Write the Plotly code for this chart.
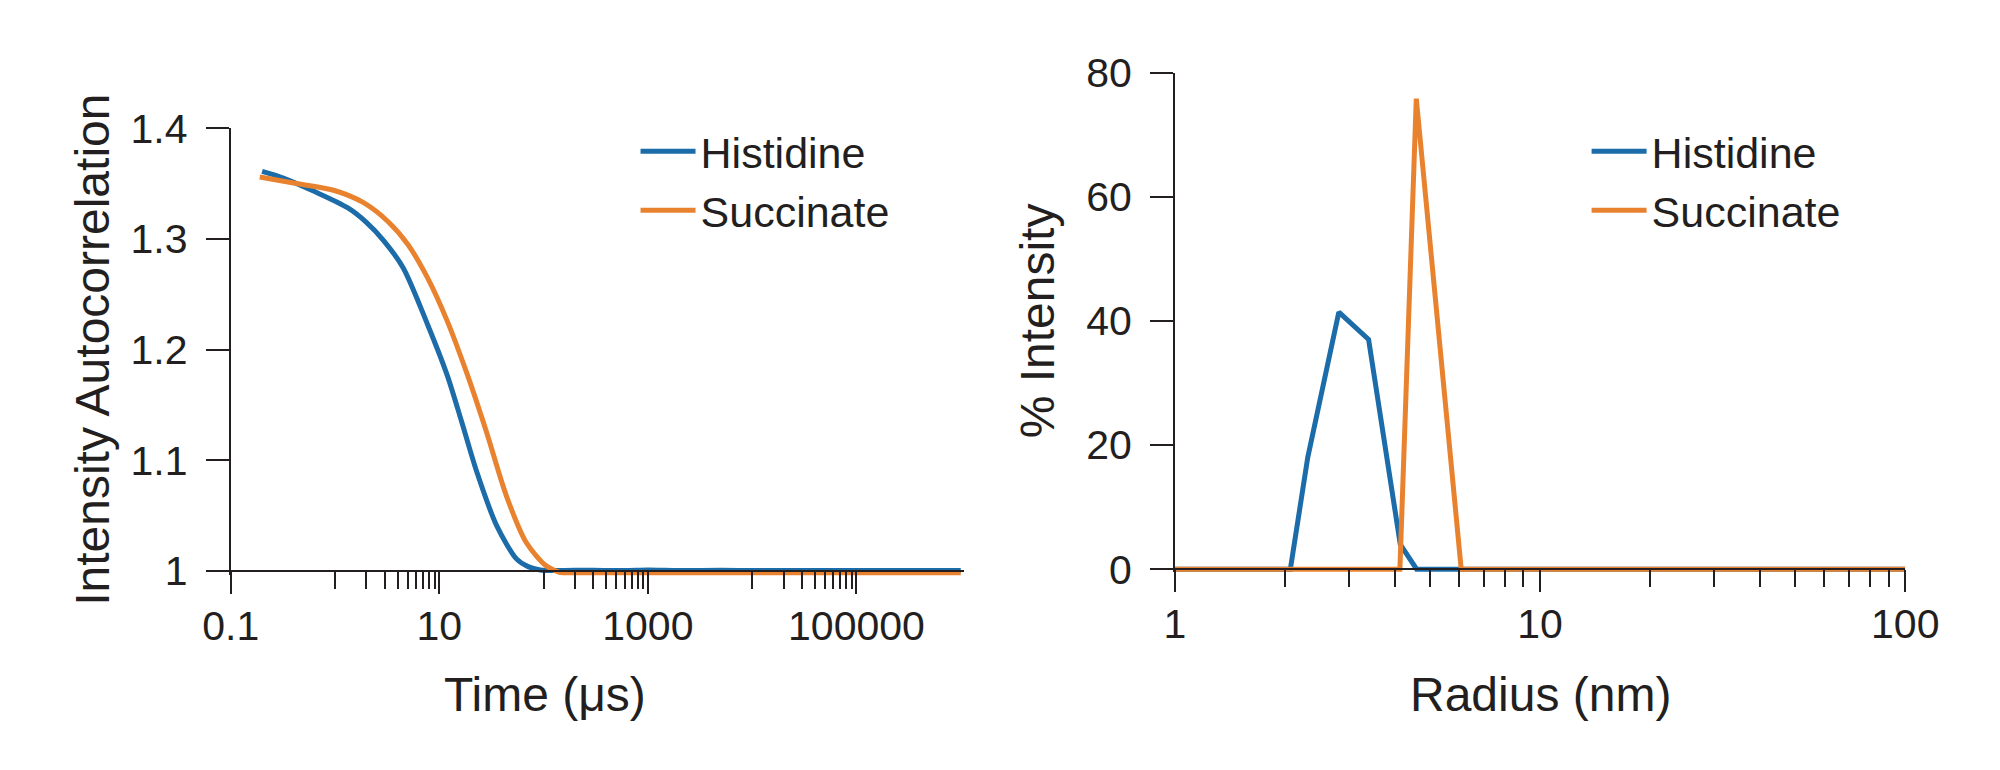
import plotly.graph_objects as go

# left panel: intensity autocorrelation vs time (us)
time_his = [0.2, 0.32, 0.63, 1.33, 2.0, 2.9, 4.5, 7.7, 11.9, 16.5, 23, 35.5, 55, 71, 93, 130,
            300, 600, 1000, 2000, 5000, 10000, 50000, 200000, 1000000]
corr_his = [1.361, 1.355, 1.343, 1.328, 1.315, 1.299, 1.274, 1.223, 1.177, 1.134, 1.089, 1.041,
            1.011, 1.004, 1.001, 1.0005, 1.0008, 1.0004, 1.0009, 1.0004, 1.0007, 1.0005, 1.0006,
            1.0005, 1.0005]

time_suc = [0.19, 0.40, 0.97, 1.86, 3.2, 5.0, 7.7, 11.9, 18.4, 28.5, 44, 68, 105, 140, 162,
            250, 500, 1000, 1300, 2000, 10000, 100000, 1000000]
corr_suc = [1.356, 1.3505, 1.344, 1.333, 1.316, 1.295, 1.265, 1.226, 1.1785, 1.125, 1.068, 1.026,
            1.005, 0.999, 0.9975, 0.997, 0.9972, 0.9975, 0.9978, 0.9972, 0.9973, 0.9972, 0.9972]

# right panel: size distribution
radius_his = [1, 2.07, 2.31, 2.81, 3.39, 4.14, 4.59, 100]
pct_his = [0, 0, 18, 41.4, 37, 4, 0, 0]
radius_suc = [1, 4.13, 4.58, 6.08, 100]
pct_suc = [0, 0, 75.8, 0, 0]

time_ticks = [0.1, 10, 1000, 100000]
time_ticktext = ["0.1", "10", "1000", "100000"]
time_minor = [1, 2, 3, 4, 5, 6, 7, 8, 9,
              100, 200, 300, 400, 500, 600, 700, 800, 900,
              10000, 20000, 30000, 40000, 50000, 60000, 70000, 80000, 90000]
radius_ticks = [1, 10, 100]
radius_minor = [2, 3, 4, 5, 6, 7, 8, 9, 20, 30, 40, 50, 60, 70, 80, 90]

BLUE = "#1b6ca8"
ORANGE = "#e9822e"
INK = "#231f20"
FONT = "Liberation Sans, Arial, sans-serif"
W, H = 2000, 770


def py(px):
    return 1 - px / H


# pixel layout of the two panels
L_x0, L_x1 = 200, 957
L_top, L_base = 103, 572
L_rng = [0.9962, 1.4]
L_bot = L_base + (1.0 - L_rng[0]) * (L_base - L_top) / (L_rng[1] - 1.0)

R_x0, R_x1 = 1175, 1929
R_top, R_base = 44, 570
R_rng = [-0.5, 80]
R_bot = R_base + (0 - R_rng[0]) * (R_base - R_top) / R_rng[1]

fig = go.Figure()

fig.add_trace(go.Scatter(x=time_his, y=corr_his, name="Histidine", mode="lines",
                         line=dict(color=BLUE, width=5, shape="spline", smoothing=0.8),
                         xaxis="x", yaxis="y", legend="legend", legendgroup="a"))
fig.add_trace(go.Scatter(x=time_suc, y=corr_suc, name="Succinate", mode="lines",
                         line=dict(color=ORANGE, width=5, shape="spline", smoothing=0.8),
                         xaxis="x", yaxis="y", legend="legend", legendgroup="b"))
fig.add_trace(go.Scatter(x=radius_his, y=pct_his, name="Histidine", mode="lines",
                         line=dict(color=BLUE, width=5),
                         xaxis="x2", yaxis="y2", legend="legend2", legendgroup="c"))
fig.add_trace(go.Scatter(x=radius_suc, y=pct_suc, name="Succinate", mode="lines",
                         line=dict(color=ORANGE, width=5),
                         xaxis="x2", yaxis="y2", legend="legend2", legendgroup="d"))

axis_common = dict(showgrid=False, zeroline=False, showline=True, linecolor=INK, linewidth=2,
                   ticks="outside", tickcolor=INK, tickwidth=2,
                   tickfont=dict(family=FONT, size=41, color=INK))

legend_common = dict(xanchor="left", yanchor="top", bgcolor="rgba(0,0,0,0)",
                     font=dict(family=FONT, size=43, color=INK), tracegroupgap=0, itemwidth=55)

fig.update_layout(
    width=W, height=H,
    margin=dict(l=0, r=0, t=0, b=0),
    paper_bgcolor="white", plot_bgcolor="white",
    font=dict(family=FONT, color=INK),
    xaxis=dict(axis_common, type="log", domain=[L_x0 / W, L_x1 / W], range=[-1, 6.03],
               anchor="free", position=py(L_base),
               tickmode="array", tickvals=time_ticks, ticktext=time_ticktext, ticklen=22,
               ticklabelstandoff=-3,
               minor=dict(tickmode="array", tickvals=time_minor, ticks="outside",
                          ticklen=17, tickwidth=1.5, tickcolor=INK)),
    yaxis=dict(axis_common, domain=[py(L_bot), py(L_top)], range=L_rng, anchor="x",
               tickmode="array", tickvals=[1, 1.1, 1.2, 1.3, 1.4],
               ticktext=["1", "1.1", "1.2", "1.3", "1.4"], ticklen=23, ticklabelstandoff=10),
    xaxis2=dict(axis_common, type="log", domain=[R_x0 / W, R_x1 / W], range=[0, 2],
                anchor="free", position=py(R_base),
                tickmode="array", tickvals=radius_ticks, ticktext=["1", "10", "100"], ticklen=22,
                ticklabelstandoff=-3,
                minor=dict(tickmode="array", tickvals=radius_minor, ticks="outside",
                           ticklen=17, tickwidth=1.5, tickcolor=INK)),
    yaxis2=dict(axis_common, domain=[py(R_bot), py(R_top)], range=R_rng, anchor="x2",
                tickmode="array", tickvals=[0, 20, 40, 60, 80], ticklen=23, ticklabelstandoff=10),
    legend=dict(legend_common, x=618 / W, y=py(91)),
    legend2=dict(legend_common, x=1600 / W, y=py(91)),
)

title_font = dict(family=FONT, size=48, color=INK)
fig.add_annotation(text="Time (μs)", xref="paper", yref="paper", x=525 / W,
                   y=py(703), showarrow=False, font=title_font, xanchor="center", yanchor="middle")
fig.add_annotation(text="Intensity Autocorrelation", xref="paper", yref="paper", x=57 / W,
                   y=py((L_top + L_base) / 2), showarrow=False, font=title_font, textangle=-90,
                   xanchor="center", yanchor="middle")
fig.add_annotation(text="Radius (nm)", xref="paper", yref="paper", x=(R_x0 + R_x1) / 2 / W,
                   y=py(703), showarrow=False, font=title_font, xanchor="center", yanchor="middle")
fig.add_annotation(text="% Intensity", xref="paper", yref="paper", x=1033 / W,
                   y=py((R_top + R_base) / 2), showarrow=False, font=title_font, textangle=-90,
                   xanchor="center", yanchor="middle")

fig.write_html("out.html")
